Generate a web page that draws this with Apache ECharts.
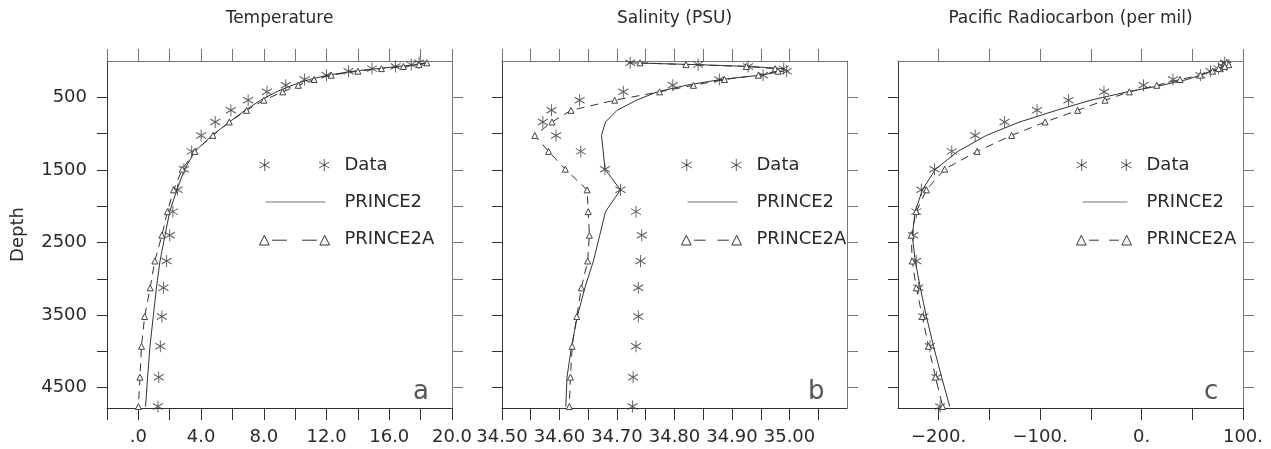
<!DOCTYPE html>
<html>
<head>
<meta charset="utf-8">
<script src="https://cdn.jsdelivr.net/npm/echarts@6/dist/echarts.min.js"></script>
<style>
html, body { margin: 0; padding: 0; background: #fff; }
#chart { width: 1271px; height: 449px; }
</style>
</head>
<body>
<div id="chart"></div>
<script>
// model levels (m)
var depths = [25, 50, 75, 105, 140, 195, 255, 335, 425, 540, 680, 840, 1025, 1245, 1490, 1775, 2075, 2400, 2755, 3125, 3520, 3930, 4355, 4760];

var tempData = [17.9, 17.4, 16.4, 14.9, 13.4, 12.0, 10.6, 9.4, 8.2, 7.0, 5.9, 4.9, 4.0, 3.4, 2.9, 2.5, 2.2, 2.0, 1.8, 1.6, 1.5, 1.4, 1.3, 1.25];
var tempP2 = [18.3, 17.7, 16.6, 15.2, 13.7, 12.1, 10.9, 9.8, 8.8, 7.8, 6.8, 5.8, 4.7, 3.6, 2.95, 2.45, 2.0, 1.7, 1.38, 1.15, 0.95, 0.74, 0.59, 0.46];
var tempP2A = [18.4, 17.9, 16.9, 15.5, 14.0, 12.3, 11.2, 10.2, 9.2, 8.0, 6.9, 5.8, 4.75, 3.6, 2.8, 2.25, 1.85, 1.5, 1.05, 0.75, 0.4, 0.2, 0.1, 0.0];

var salData = [34.723, 34.841, 34.928, 34.99, 34.995, 34.954, 34.878, 34.797, 34.711, 34.635, 34.586, 34.571, 34.594, 34.637, 34.679, 34.706, 34.733, 34.743, 34.741, 34.737, 34.737, 34.733, 34.728, 34.727];
var salP2 = [34.72, 34.84, 34.93, 34.99, 34.99, 34.95, 34.88, 34.82, 34.77, 34.734, 34.70, 34.68, 34.673, 34.676, 34.679, 34.706, 34.68, 34.67, 34.659, 34.644, 34.631, 34.621, 34.613, 34.611];
var salP2A = [34.74, 34.82, 34.925, 34.975, 34.98, 34.946, 34.887, 34.833, 34.774, 34.696, 34.62, 34.587, 34.557, 34.581, 34.61, 34.648, 34.65, 34.652, 34.649, 34.638, 34.63, 34.622, 34.619, 34.617];

var radData = [82, 84, 80, 76, 68, 58, 31, 2, -37, -72, -103, -135, -164, -187, -204, -217, -222, -225, -222, -220, -215, -208.5, -202, -198.5];
var radP2 = [86, 88, 84, 78, 68, 58, 45, 20, -14, -50, -84, -120, -153, -181, -203, -216, -223, -226, -223, -218, -212, -205, -197, -189];
var radP2A = [84, 86, 82, 76, 70, 58, 38, 15, -12, -36, -63, -95, -128, -162, -194, -212, -222, -227, -226, -222, -216, -210, -203, -196];

// ticks and labels
var depthTicks = [500, 1000, 1500, 2000, 2500, 3000, 3500, 4000, 4500];
var depthLabels = [500, 1500, 2500, 3500, 4500];
var tempTicks = [-2, 0, 2, 4, 6, 8, 10, 12, 14, 16, 18, 20];
var tempLabels = [0, 4, 8, 12, 16, 20];
var salTicks = [34.5, 34.55, 34.6, 34.65, 34.7, 34.75, 34.8, 34.85, 34.9, 34.95, 35.0, 35.05];
var salLabels = [34.5, 34.6, 34.7, 34.8, 34.9, 35.0];
var radTicks = [-200, -150, -100, -50, 0, 50, 100];
var radLabels = [-200, -100, 0, 100];

var FONT = "'DejaVu Sans', sans-serif";
var INK = '#2a2a2a';
var DARK = '#333';
var LIGHT = '#777';

var panels = [
    {left: 107, title: 'Temperature', letter: 'a', min: -2, max: 20, ticks: tempTicks, labels: tempLabels,
        fmt: function (v) { return v === 0 ? '.0' : v.toFixed(1); },
        obs: tempData, p2: tempP2, p2a: tempP2A, legendLeft: 257, legendW: 70},
    {left: 502, title: 'Salinity (PSU)', letter: 'b', min: 34.5, max: 35.1, ticks: salTicks, labels: salLabels,
        fmt: function (v) { return v.toFixed(2); },
        obs: salData, p2: salP2, p2a: salP2A, legendLeft: 679, legendW: 60},
    {left: 898, title: 'Pacific Radiocarbon (per mil)', letter: 'c', min: -240, max: 100, ticks: radTicks, labels: radLabels,
        fmt: function (v) { return (v < 0 ? '\u2212' : '') + Math.abs(v) + '.'; },
        obs: radData, p2: radP2, p2a: radP2A, legendLeft: 1074, legendW: 55}
];

var W = 345, TOP = 61, H = 347, DMAX = 4780;

var starSymbol = 'path://M0,-10L0,10M-8.66,-5L8.66,5M-8.66,5L8.66,-5';

function starPair(w, h) {
    var r = h / 2, dx = r * 0.87, dy = r * 0.5, cy = h / 2;
    var star = function (cx) {
        return 'M' + cx + ',' + (cy - r) + 'L' + cx + ',' + (cy + r) +
            'M' + (cx - dx) + ',' + (cy - dy) + 'L' + (cx + dx) + ',' + (cy + dy) +
            'M' + (cx - dx) + ',' + (cy + dy) + 'L' + (cx + dx) + ',' + (cy - dy);
    };
    return 'path://' + star(dx) + star(w - dx);
}

function plainLine(w, h) {
    // tiny corner stubs keep the icon box full height
    return 'path://M0,0L0,0.01M' + w + ',' + h + 'L' + w + ',' + (h - 0.01) +
        'M6,' + (h / 2) + 'L' + (w - 4) + ',' + (h / 2);
}

function triDash(w, h) {
    var t = h * 0.8, y = h * 0.6;
    var p = 'M0,' + h + 'L' + (t / 2) + ',' + (h - t) + 'L' + t + ',' + h + 'Z';
    p += 'M' + (w - t) + ',' + h + 'L' + (w - t / 2) + ',' + (h - t) + 'L' + w + ',' + h + 'Z';
    p += 'M0,0L0,0.01';
    var x0 = t + 3, x1 = w - t - 3, seg = (x1 - x0) * 0.33;
    p += 'M' + x0 + ',' + y + 'L' + (x0 + seg) + ',' + y;
    p += 'M' + (x1 - seg) + ',' + y + 'L' + x1 + ',' + y;
    return 'path://' + p;
}

var pairs = function (xs) {
    return depths.map(function (d, k) { return [xs[k], d]; });
};

var grid = [], xAxis = [], yAxis = [], series = [], legend = [], title = [];
var strokeOnly = {color: 'none', borderColor: DARK, borderWidth: 1};

panels.forEach(function (p, i) {
    grid.push({left: p.left, top: TOP, width: W, height: H});

    xAxis.push({
        gridIndex: i, type: 'value', position: 'bottom', min: p.min, max: p.max,
        axisLine: {onZero: false, lineStyle: {color: DARK, width: 1}},
        axisTick: {customValues: p.ticks, length: 12, lineStyle: {color: DARK}},
        axisLabel: {customValues: p.labels, formatter: p.fmt, margin: 20,
            fontSize: 18, color: INK, fontFamily: FONT},
        splitLine: {show: false}
    });
    xAxis.push({
        gridIndex: i, type: 'value', position: 'top', min: p.min, max: p.max,
        axisLine: {onZero: false, lineStyle: {color: LIGHT, width: 1}},
        axisTick: {customValues: p.ticks, length: 12, lineStyle: {color: LIGHT}},
        axisLabel: {show: false},
        splitLine: {show: false}
    });

    yAxis.push({
        gridIndex: i, type: 'value', position: 'left', inverse: true, min: 0, max: DMAX,
        name: i === 0 ? 'Depth' : '', nameLocation: 'middle', nameRotate: 90, nameGap: 80,
        nameTextStyle: {fontSize: 18, color: INK, fontFamily: FONT},
        axisLine: {onZero: false, lineStyle: {color: DARK, width: 1}},
        axisTick: {customValues: depthTicks, length: 10, lineStyle: {color: DARK}},
        axisLabel: {show: i === 0, customValues: depthLabels, margin: 20,
            formatter: function (v) { return String(v); },
            fontSize: 18, color: INK, fontFamily: FONT},
        splitLine: {show: false}
    });
    yAxis.push({
        gridIndex: i, type: 'value', position: 'right', inverse: true, min: 0, max: DMAX,
        axisLine: {onZero: false, lineStyle: {color: LIGHT, width: 1}},
        axisTick: {customValues: depthTicks, length: 11, lineStyle: {color: LIGHT}},
        axisLabel: {show: false},
        splitLine: {show: false}
    });

    var xi = i * 2, yi = i * 2;
    series.push({
        name: 'PRINCE2', type: 'line', xAxisIndex: xi, yAxisIndex: yi,
        data: pairs(p.p2), symbol: 'none',
        lineStyle: {color: DARK, width: 1}, itemStyle: {color: DARK}
    });
    series.push({
        name: 'PRINCE2A', type: 'line', xAxisIndex: xi, yAxisIndex: yi,
        data: pairs(p.p2a), symbol: 'triangle', symbolSize: 6, showAllSymbol: true,
        lineStyle: {color: DARK, width: 1, type: [8, 6]},
        itemStyle: {color: '#fff', borderColor: '#444', borderWidth: 1}
    });
    series.push({
        name: 'Data', type: 'scatter', xAxisIndex: xi, yAxisIndex: yi,
        data: pairs(p.obs), symbol: starSymbol, symbolSize: [10, 12],
        itemStyle: {color: 'none', borderColor: DARK, borderWidth: 1}
    });

    legend.push({
        orient: 'vertical', left: p.legendLeft, top: 156, padding: 0,
        itemWidth: p.legendW, itemHeight: 12, itemGap: 19, selectedMode: false,
        textStyle: {fontSize: 18, color: INK, fontFamily: FONT, padding: [0, 0, 0, 10]},
        data: [
            {name: 'Data', icon: starPair(p.legendW, 12), itemStyle: strokeOnly},
            {name: 'PRINCE2', icon: plainLine(p.legendW, 12), itemStyle: {color: 'none', borderColor: '#777', borderWidth: 1}},
            {name: 'PRINCE2A', icon: triDash(p.legendW, 12), itemStyle: strokeOnly}
        ]
    });

    title.push({
        text: p.title, left: p.left + W / 2, top: 10, textAlign: 'center', padding: 0,
        textStyle: {fontSize: 17, fontWeight: 'normal', color: INK, fontFamily: FONT}
    });
    title.push({
        text: p.letter, left: p.left + W - 39, top: 379, padding: 0,
        textStyle: {fontSize: 26, fontWeight: 'normal', color: '#555', fontFamily: FONT}
    });
});

var myChart = echarts.init(document.getElementById('chart'));
myChart.setOption({
    animation: false,
    backgroundColor: '#fff',
    title: title,
    legend: legend,
    grid: grid,
    xAxis: xAxis,
    yAxis: yAxis,
    series: series
});
</script>
</body>
</html>
